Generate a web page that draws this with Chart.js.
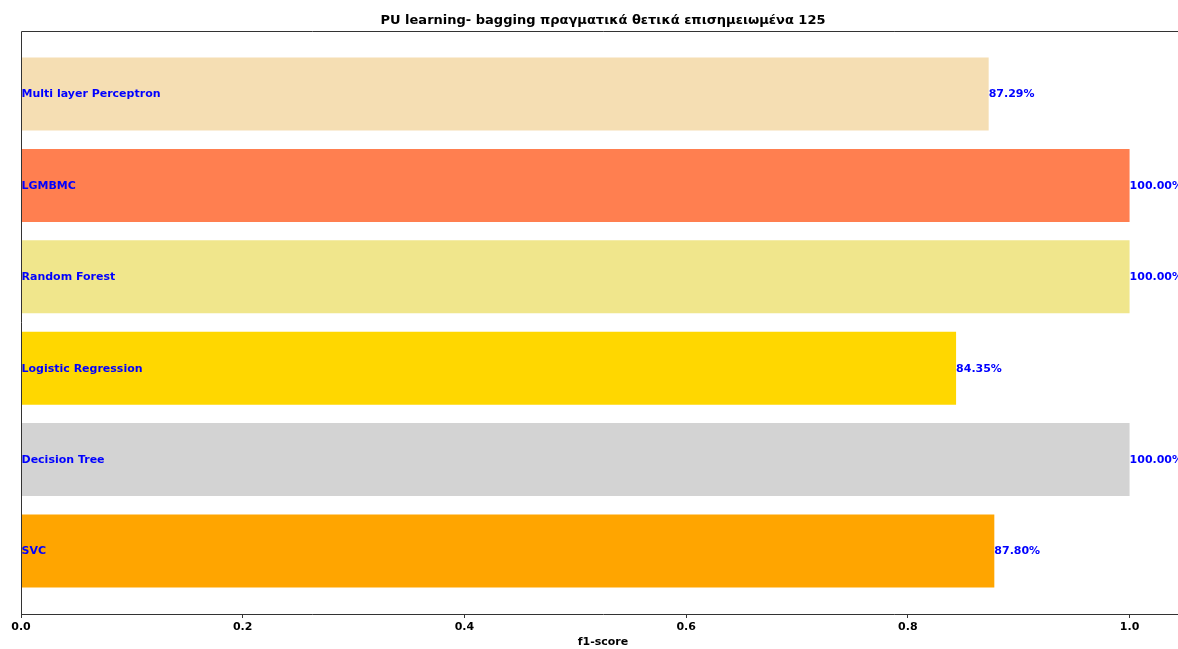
<!DOCTYPE html>
<html>
<head>
<meta charset="utf-8">
<script src="https://cdn.jsdelivr.net/npm/chart.js@4.4.1/dist/chart.umd.min.js"></script>
<style>
  body { margin: 0; background: #fff; overflow: hidden; }
  #wrap { width: 1178px; height: 649px; overflow: hidden; }
</style>
</head>
<body>
<div id="wrap"><canvas id="myChart" width="1186" height="649"></canvas></div>
<script>
// bottom to top, same order as the bars are stacked on the axis
const models = ["SVC", "Decision Tree", "Logistic Regression", "Random Forest", "LGMBMC", "Multi layer Perceptron"];
const f1Scores = [0.8780, 1.0, 0.8435, 1.0, 1.0, 0.8729];
const barColors = ["#FFA500", "#D3D3D3", "#FFD700", "#F0E68C", "#FF7F50", "#F5DEB3"];
const xTicks = [0.0, 0.2, 0.4, 0.6, 0.8, 1.0];

const FONT = "DejaVu Sans";
const spineColor = "#333";

// left + top spine, like a matplotlib frame
const framePlugin = {
  id: "frame",
  afterDraw(chart) {
    const { ctx, chartArea } = chart;
    ctx.save();
    ctx.strokeStyle = spineColor;
    ctx.lineWidth = 1;
    ctx.beginPath();
    ctx.moveTo(chartArea.left + 0.5, chartArea.bottom);
    ctx.lineTo(chartArea.left + 0.5, chartArea.top + 0.5);
    ctx.lineTo(chartArea.right, chartArea.top + 0.5);
    ctx.stroke();
    ctx.restore();
  },
};

// model name at the start of each bar, score at its end
const barLabels = {
  id: "barLabels",
  afterDatasetsDraw(chart) {
    const { ctx } = chart;
    const meta = chart.getDatasetMeta(0);
    ctx.save();
    ctx.font = "bold 11px '" + FONT + "'";
    ctx.fillStyle = "#0000FF";
    ctx.textBaseline = "middle";
    ctx.textAlign = "left";
    meta.data.forEach((bar, i) => {
      ctx.fillText(models[i], bar.base, bar.y + 0.5);
      ctx.fillText((f1Scores[i] * 100).toFixed(2) + "%", bar.x, bar.y + 0.5);
    });
    ctx.restore();
  },
};

new Chart("myChart", {
  type: "bar",
  data: {
    datasets: [
      {
        data: f1Scores.map((v, i) => ({ x: v, y: i })),
        backgroundColor: barColors,
        borderWidth: 0,
        barPercentage: 0.8,
        categoryPercentage: 1.0,
      },
    ],
  },
  options: {
    indexAxis: "y",
    responsive: false,
    animation: false,
    events: [],
    layout: { padding: { left: 21, right: 1, top: 0, bottom: 0 } },
    plugins: {
      legend: { display: false },
      tooltip: { enabled: false },
      title: {
        display: true,
        text: "PU learning- bagging πραγματικά θετικά επισημειωμένα 125",
        color: "#000",
        font: { family: FONT, size: 13, weight: "bold", lineHeight: 1.2 },
        padding: { top: 12.5, bottom: 2.9 },
      },
    },
    scales: {
      x: {
        type: "linear",
        min: 0,
        max: 1.05,
        afterBuildTicks: (scale) => {
          scale.ticks = xTicks.map((v) => ({ value: v }));
        },
        afterFit: (scale) => {
          scale.height = 35;
        },
        grid: { drawOnChartArea: false, drawTicks: true, tickLength: 4, color: spineColor },
        border: { display: true, color: spineColor, width: 1 },
        ticks: {
          color: "#000",
          padding: 3,
          font: { family: FONT, size: 11, weight: "bold" },
          maxRotation: 0,
          callback: (v) => Number(v).toFixed(1),
        },
        title: {
          display: true,
          text: "f1-score",
          color: "#000",
          font: { family: FONT, size: 11, weight: "bold", lineHeight: 1.2 },
          padding: { top: 0, bottom: 0 },
        },
      },
      y: {
        type: "linear",
        min: -0.69,
        max: 5.69,
        offset: false,
        // one tick per bar so the bar width follows the bar spacing
        afterBuildTicks: (scale) => {
          scale.ticks = models.map((m, i) => ({ value: i }));
        },
        display: false,
      },
    },
  },
  plugins: [framePlugin, barLabels],
});
</script>
</body>
</html>
